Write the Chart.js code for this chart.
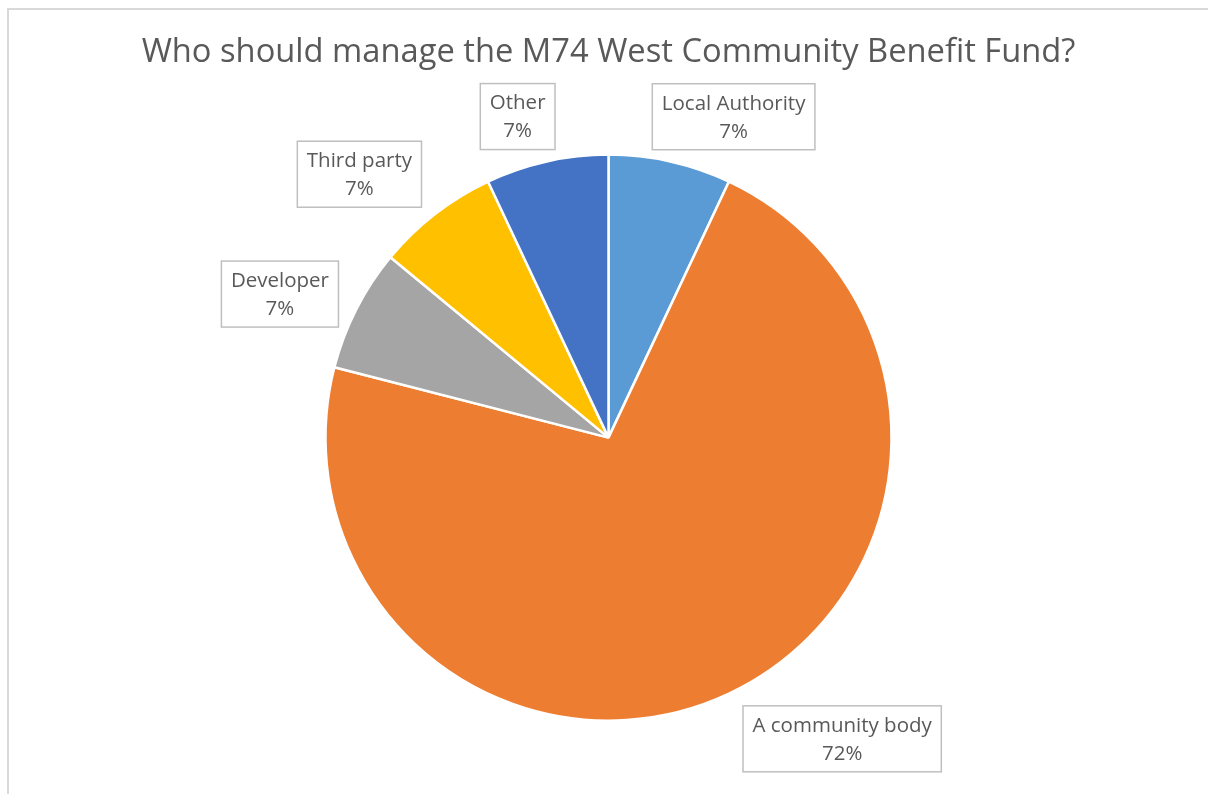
<!doctype html>
<html>
<head>
<meta charset="utf-8" />
<title>M74 West Community Benefit Fund</title>
<script src="https://cdn.jsdelivr.net/npm/chart.js@4/dist/chart.umd.min.js"></script>
<style>
  html, body { margin: 0; padding: 0; background: #fff; }
  #wrap { position: relative; width: 1208px; height: 794px; overflow: hidden; }
  #frame { position: absolute; left: 7px; top: 8px; width: 1300px; height: 900px;
           border-top: 2px solid #d9d9d9; border-left: 2px solid #d9d9d9; }
  #myChart { position: absolute; left: 0; top: 0; }
</style>
</head>
<body>
<div id="wrap">
  <div id="frame"></div>
  <canvas id="myChart" width="1208" height="794"></canvas>
</div>
<script>
var categories = ["Local Authority", "A community body", "Developer", "Third party", "Other"];
var shares = [7, 72, 7, 7, 7];
var colours = ["#5b9bd5", "#ed7d31", "#a5a5a5", "#ffc000", "#4472c4"];

// where each callout box sits: angle nudge (deg) from slice middle, distance as multiple of radius
var labelNudge = [8.7, -12.6, -3.4, -5.6, -3.2];
var labelDist = [1.217, 1.347, 1.267, 1.281, 1.179];

var FONT = "'Open Sans', 'Noto Sans', sans-serif";

var calloutPlugin = {
    id: "callouts",
    afterDatasetsDraw: function (chart) {
        var ctx = chart.ctx;
        var meta = chart.getDatasetMeta(0);
        var total = shares.reduce(function (a, b) { return a + b; }, 0);
        ctx.save();
        ctx.font = "20.5px " + FONT;
        meta.data.forEach(function (arc, i) {
            var mid = (arc.startAngle + arc.endAngle) / 2 + labelNudge[i] * Math.PI / 180;
            var d = arc.outerRadius * labelDist[i];
            var cx = arc.x + Math.cos(mid) * d;
            var cy = arc.y + Math.sin(mid) * d;
            var line1 = categories[i];
            var line2 = Math.round(shares[i] / total * 100) + "%";
            var w = Math.max(ctx.measureText(line1).width, ctx.measureText(line2).width) + 19;
            var h = 66;
            ctx.fillStyle = "#ffffff";
            ctx.fillRect(cx - w / 2, cy - h / 2, w, h);
            ctx.strokeStyle = "#bfbfbf";
            ctx.lineWidth = 1.5;
            ctx.strokeRect(cx - w / 2, cy - h / 2, w, h);
            ctx.fillStyle = "#595959";
            ctx.textAlign = "center";
            ctx.textBaseline = "middle";
            ctx.fillText(line1, cx, cy - 13);
            ctx.fillText(line2, cx, cy + 15);
        });
        ctx.restore();
    }
};

var chart = new Chart(document.getElementById("myChart"), {
    type: "pie",
    data: {
        labels: categories,
        datasets: [{
            data: shares,
            backgroundColor: colours,
            borderColor: "#ffffff",
            borderWidth: 2.5
        }]
    },
    options: {
        responsive: false,
        animation: false,
        radius: 283,
        layout: { padding: { top: 0, left: 9, right: 0, bottom: 10 } },
        plugins: {
            legend: { display: false },
            tooltip: { enabled: false },
            title: {
                display: true,
                text: "Who should manage the M74 West Community Benefit Fund?",
                color: "#595959",
                font: { family: FONT, size: 32.7, weight: "normal", lineHeight: 1.2 },
                padding: { top: 33, bottom: 19 }
            }
        }
    },
    plugins: [calloutPlugin]
});
</script>
</body>
</html>
